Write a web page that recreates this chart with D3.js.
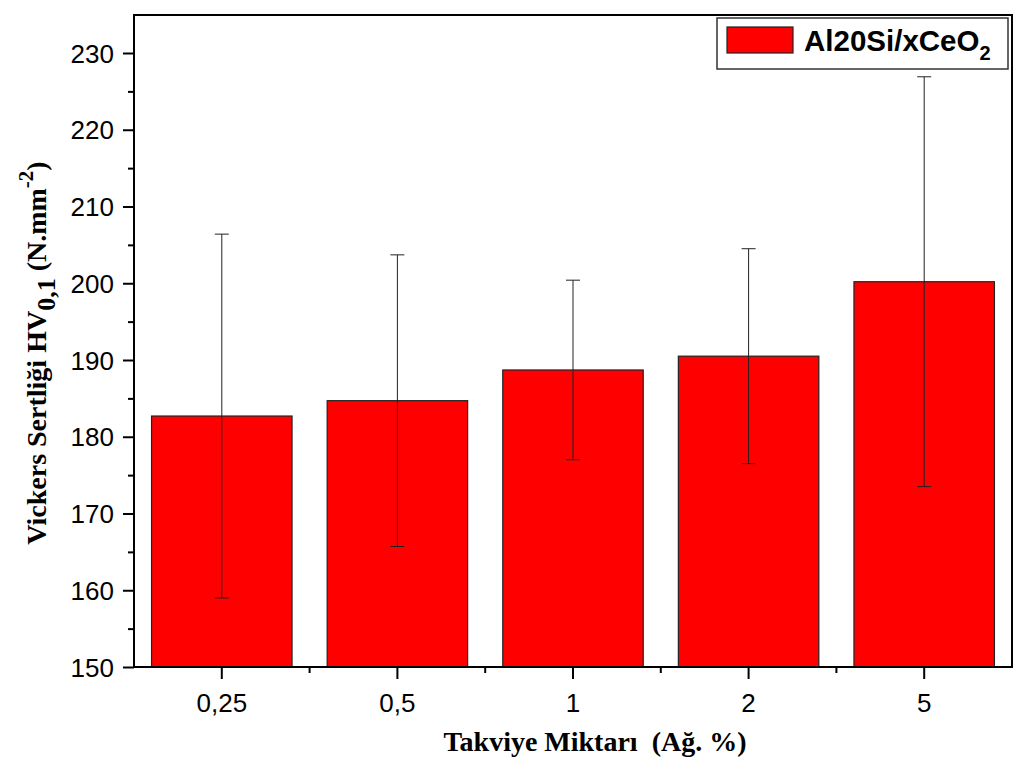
<!DOCTYPE html>
<html><head><meta charset="utf-8">
<script src="https://cdn.jsdelivr.net/npm/d3@7"></script>
<style>body{margin:0;background:#fff;}svg{display:block;}</style>
</head><body>
<svg id="c" width="1024" height="768"></svg>
<script>
const categories = ["0,25", "0,5", "1", "2", "5"];
const hardness = [182.7, 184.7, 188.7, 190.5, 200.2];
const errors = [23.7, 19.0, 11.7, 14.0, 26.7];
const yTicks = [150, 160, 170, 180, 190, 200, 210, 220, 230];
const seriesName = "Al20Si/xCeO";

const svg = d3.select("#c");
const L = 134, R = 1012, T = 15, B = 667;
const x = d3.scaleBand().domain(categories).range([L, R]).paddingInner(0.2).paddingOuter(0.1);
const y = d3.scaleLinear().domain([150, 235]).range([B, B - 85 * 7.675]);
const sans = "Arial, 'Liberation Sans', sans-serif";
const serif = "'Liberation Serif', 'Times New Roman', serif";

// bars
svg.append("g").selectAll("rect").data(hardness).join("rect")
  .attr("x", (d, i) => x(categories[i]))
  .attr("width", x.bandwidth())
  .attr("y", d => y(d))
  .attr("height", d => y(150) - y(d))
  .attr("fill", "#ff0000").attr("stroke", "#222").attr("stroke-width", 1.2);

// error bars
const eb = svg.append("g").attr("stroke", "#222").attr("stroke-width", 1);
hardness.forEach((v, i) => {
  const cx = x(categories[i]) + x.bandwidth() / 2;
  eb.append("line").attr("x1", cx).attr("x2", cx).attr("y1", y(v + errors[i])).attr("y2", y(v - errors[i]));
  [v + errors[i], v - errors[i]].forEach(e => {
    eb.append("line").attr("x1", cx - 7).attr("x2", cx + 7).attr("y1", y(e)).attr("y2", y(e));
  });
});

// frame
svg.append("rect").attr("x", L).attr("y", T).attr("width", R - L).attr("height", B - T)
  .attr("fill", "none").attr("stroke", "#000").attr("stroke-width", 2);

// y axis
const yAx = svg.append("g").attr("transform", `translate(${L},0)`)
  .call(d3.axisLeft(y).tickValues(yTicks).tickSize(11).tickPadding(9).tickFormat(d3.format("d")));
yAx.select(".domain").remove();
yAx.selectAll("line").attr("stroke-width", 2);
yAx.selectAll("text").attr("font-family", sans).attr("font-size", 26).attr("fill", "#000").attr("dy", "0.35em");
const yMinor = svg.append("g").attr("transform", `translate(${L},0)`)
  .call(d3.axisLeft(y).tickValues(yTicks.slice(0, -1).map(t => t + 5)).tickSize(6).tickFormat(""));
yMinor.select(".domain").remove();
yMinor.selectAll("line").attr("stroke-width", 2);

// x axis
const xAx = svg.append("g").attr("transform", `translate(0,${B})`)
  .call(d3.axisBottom(x).tickSize(12));
xAx.select(".domain").remove();
xAx.selectAll("line").attr("stroke-width", 2);
xAx.selectAll("text").attr("font-family", sans).attr("font-size", 26).attr("fill", "#000")
  .attr("y", 45).attr("dy", 0);
const step = x.step();
const minorX = categories.slice(0, -1).map(c => x(c) + x.bandwidth() / 2 + step / 2);
svg.append("g").selectAll("line").data(minorX).join("line")
  .attr("x1", d => d).attr("x2", d => d).attr("y1", B).attr("y2", B + 6)
  .attr("stroke", "#000").attr("stroke-width", 2);

// axis titles
svg.append("text").attr("x", 595).attr("y", 751).attr("text-anchor", "middle")
  .style("white-space", "pre")
  .attr("font-family", serif).attr("font-weight", "bold").attr("font-size", 28)
  .text("Takviye Miktarı  (Ağ. %)");

const yt = svg.append("text").attr("transform", "translate(46,353) rotate(-90)").attr("text-anchor", "middle")
  .attr("font-family", serif).attr("font-weight", "bold").attr("font-size", 28);
yt.append("tspan").text("Vickers Sertliği HV");
yt.append("tspan").attr("dy", 9).attr("font-size", 26).text("0,1");
yt.append("tspan").attr("dy", -9).text(" (N.mm");
yt.append("tspan").attr("dy", -13).attr("font-size", 21).text("-2");
yt.append("tspan").attr("dy", 13).text(")");

// legend
const lg = svg.append("g");
lg.append("rect").attr("x", 717).attr("y", 18).attr("width", 291).attr("height", 51)
  .attr("fill", "#fff").attr("stroke", "#333").attr("stroke-width", 1.5);
lg.append("rect").attr("x", 727).attr("y", 27).attr("width", 66).attr("height", 26)
  .attr("fill", "#ff0000").attr("stroke", "#222").attr("stroke-width", 1.2);
const lt = lg.append("text").attr("x", 804).attr("y", 51)
  .attr("font-family", sans).attr("font-weight", "bold").attr("font-size", 29.5);
lt.append("tspan").text(seriesName);
lt.append("tspan").attr("dy", 9).attr("font-size", 20).text("2");
</script>
</body></html>
